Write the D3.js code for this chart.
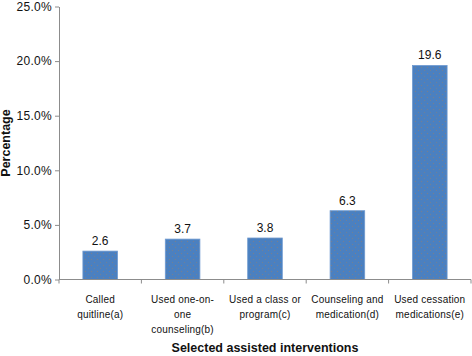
<!DOCTYPE html>
<html>
<head>
<meta charset="utf-8">
<script src="https://cdn.jsdelivr.net/npm/d3@7"></script>
<style>
  body { margin: 0; background: #fff; }
  svg { display: block; font-family: 'Liberation Sans', Arial, Helvetica, sans-serif; }
</style>
</head>
<body>
<div id="chart"></div>
<script>
const categories = ['a', 'b', 'c', 'd', 'e']
const categoryLines = [
    ['Called', 'quitline(a)'],
    ['Used one-on-', 'one', 'counseling(b)'],
    ['Used a class or', 'program(c)'],
    ['Counseling and', 'medication(d)'],
    ['Used cessation', 'medications(e)']
]
const values = [2.6, 3.7, 3.8, 6.3, 19.6]
const yTicks = [0, 5, 10, 15, 20, 25]

const width = 472
const height = 356
const plotLeft = 59
const plotRight = 471
const plotTop = 6.5
const plotBottom = 279.5
const axisColor = '#8c8c8c'

const svg = d3.select('#chart')
    .append('svg')
    .attr('width', width)
    .attr('height', height)

// speckled fill like the original
const defs = svg.append('defs')
const pat = defs.append('pattern')
    .attr('id', 'speckle')
    .attr('width', 6)
    .attr('height', 6)
    .attr('patternUnits', 'userSpaceOnUse')
pat.append('rect').attr('width', 6).attr('height', 6).attr('fill', '#4b80c0')
pat.append('rect').attr('x', 1).attr('y', 1).attr('width', 1).attr('height', 1).attr('fill', '#9a7f68').attr('opacity', 0.6)
pat.append('rect').attr('x', 4).attr('y', 4).attr('width', 1).attr('height', 1).attr('fill', '#9a7f68').attr('opacity', 0.5)

const scaleX = d3.scaleBand()
    .domain(categories)
    .range([plotLeft, plotRight])
    .paddingInner(0)
    .paddingOuter(0)

const scaleY = d3.scaleLinear()
    .domain([0, 25])
    .range([plotBottom, plotTop])

// y axis
const yAxis = svg.append('g')
    .attr('transform', `translate(${plotLeft},0)`)
    .call(d3.axisLeft(scaleY).tickValues(yTicks).tickFormat(d => d.toFixed(1) + '%').tickSize(4).tickSizeOuter(0))
yAxis.select('.domain').attr('stroke', axisColor)
yAxis.selectAll('.tick line').attr('stroke', axisColor)
yAxis.selectAll('.tick text')
    .attr('x', -7)
    .attr('font-size', 12)
    .attr('letter-spacing', 0.3)
    .attr('font-family', "'Liberation Sans', Arial, sans-serif")
    .attr('fill', '#111')

// bars
const barW = scaleX.bandwidth() * 0.42
svg.append('g')
    .selectAll('rect')
    .data(values)
    .join('rect')
    .attr('x', (d, i) => scaleX(categories[i]) + (scaleX.bandwidth() - barW) / 2)
    .attr('y', d => scaleY(d))
    .attr('width', barW)
    .attr('height', d => scaleY(0) - scaleY(d))
    .attr('fill', 'url(#speckle)')
    .attr('stroke', '#6f9ad0')
    .attr('stroke-width', 0.8)

// value labels
svg.append('g')
    .selectAll('text')
    .data(values)
    .join('text')
    .text(d => d.toFixed(1))
    .attr('x', (d, i) => scaleX(categories[i]) + scaleX.bandwidth() / 2)
    .attr('y', d => scaleY(d) - 6)
    .attr('text-anchor', 'middle')
    .attr('font-size', 12)
    .attr('fill', '#111')

// x axis
svg.append('line')
    .attr('x1', plotLeft)
    .attr('x2', plotRight)
    .attr('y1', plotBottom)
    .attr('y2', plotBottom)
    .attr('stroke', axisColor)

const boundaries = categories.map(c => scaleX(c)).concat([plotRight])
svg.append('g')
    .selectAll('line')
    .data(boundaries)
    .join('line')
    .attr('x1', d => d)
    .attr('x2', d => d)
    .attr('y1', plotBottom)
    .attr('y2', plotBottom + 4)
    .attr('stroke', axisColor)

// category labels
const catG = svg.append('g')
    .selectAll('text')
    .data(categoryLines)
    .join('text')
    .attr('text-anchor', 'middle')
    .attr('font-size', 10)
    .attr('letter-spacing', 0.2)
    .attr('fill', '#111')
catG.each(function (lines, i) {
    d3.select(this).selectAll('tspan')
        .data(lines)
        .join('tspan')
        .attr('x', scaleX(categories[i]) + scaleX.bandwidth() / 2)
        .attr('y', (d, j) => 303 + j * 15.2)
        .text(d => d)
})

// axis titles
svg.append('text')
    .text('Selected assisted interventions')
    .attr('x', (plotLeft + plotRight) / 2)
    .attr('y', 352)
    .attr('text-anchor', 'middle')
    .attr('font-weight', 'bold')
    .attr('font-size', 12.5)
    .attr('fill', '#111')

svg.append('text')
    .text('Percentage')
    .attr('transform', `translate(10, ${(plotTop + plotBottom) / 2}) rotate(-90)`)
    .attr('text-anchor', 'middle')
    .attr('font-weight', 'bold')
    .attr('font-size', 12.5)
    .attr('fill', '#111')
</script>
</body>
</html>
